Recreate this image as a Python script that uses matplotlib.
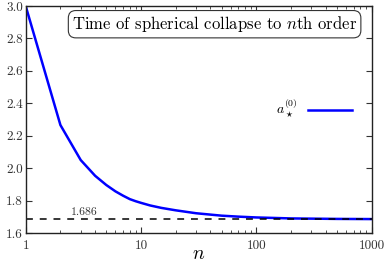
import matplotlib
matplotlib.use("Agg")
import matplotlib.pyplot as plt
from matplotlib.ticker import FixedLocator, FixedFormatter, LogLocator, NullFormatter, MultipleLocator

plt.rcParams['font.family'] = ['cmr10', 'DejaVu Serif']
plt.rcParams['mathtext.fontset'] = 'cm'
plt.rcParams['axes.unicode_minus'] = False
plt.rcParams['axes.formatter.use_mathtext'] = True

# values
n_order = [1, 2, 3, 4, 5, 6, 7, 8, 9, 10, 12, 15, 20, 30, 50, 70, 100, 200, 500, 1000]
a_star = [3.0, 2.266, 2.050, 1.953, 1.896, 1.857, 1.830, 1.809, 1.796, 1.786,
          1.770, 1.755, 1.740, 1.722, 1.707, 1.701, 1.696, 1.690, 1.687, 1.686]
delta_c = 1.686
x_ticks = [1, 10, 100, 1000]
x_labels = ["1", "10", "100", "1000"]

fig = plt.figure(figsize=(3.87, 2.63), dpi=100)
ax = fig.add_axes([0.0664, 0.114, 0.894, 0.863])

ax.plot(n_order, a_star, color="#0000ff", lw=1.8, label=r"$a_\star^{(0)}$")
ax.axhline(delta_c, color="black", lw=1.1, ls=(0, (4.5, 4.5)))
ax.text(2.45, delta_c + 0.012, "1.686", fontsize=8.5, ha="left", va="bottom", color="#333333")

ax.set_xscale("log")
ax.set_xlim(1, 1000)
ax.set_ylim(1.6, 3.0)
ax.xaxis.set_major_locator(FixedLocator(x_ticks))
ax.xaxis.set_major_formatter(FixedFormatter(x_labels))
ax.xaxis.set_minor_locator(LogLocator(base=10, subs=range(2, 10)))
ax.xaxis.set_minor_formatter(NullFormatter())
ax.yaxis.set_major_locator(MultipleLocator(0.2))
ax.yaxis.set_major_formatter(plt.FuncFormatter(lambda v, p: f"{v:.1f}"))

ax.tick_params(which="both", direction="in", top=True, right=True, labelsize=9.5, colors="#333333")
ax.tick_params(which="major", length=4, width=0.8)
ax.tick_params(which="minor", length=2, width=0.6)
ax.tick_params(axis="x", pad=5)
ax.tick_params(axis="y", pad=2)
for s in ax.spines.values():
    s.set_linewidth(1.0)
    s.set_color("#222222")

ax.set_xlabel(r"$n$", fontsize=14, labelpad=-5)

ax.text(0.546, 0.92, r"Time of spherical collapse to $n$th order", transform=ax.transAxes,
        ha="center", va="center", fontsize=12,
        bbox=dict(boxstyle="round,pad=0.22,rounding_size=0.45", fc="white", ec="#333333", lw=0.8))

ax.legend(loc="center right", bbox_to_anchor=(0.98, 0.545), frameon=False, markerfirst=False,
          fontsize=10, handlelength=3.2, handletextpad=0.7)

fig.savefig("out.png", dpi=100)
